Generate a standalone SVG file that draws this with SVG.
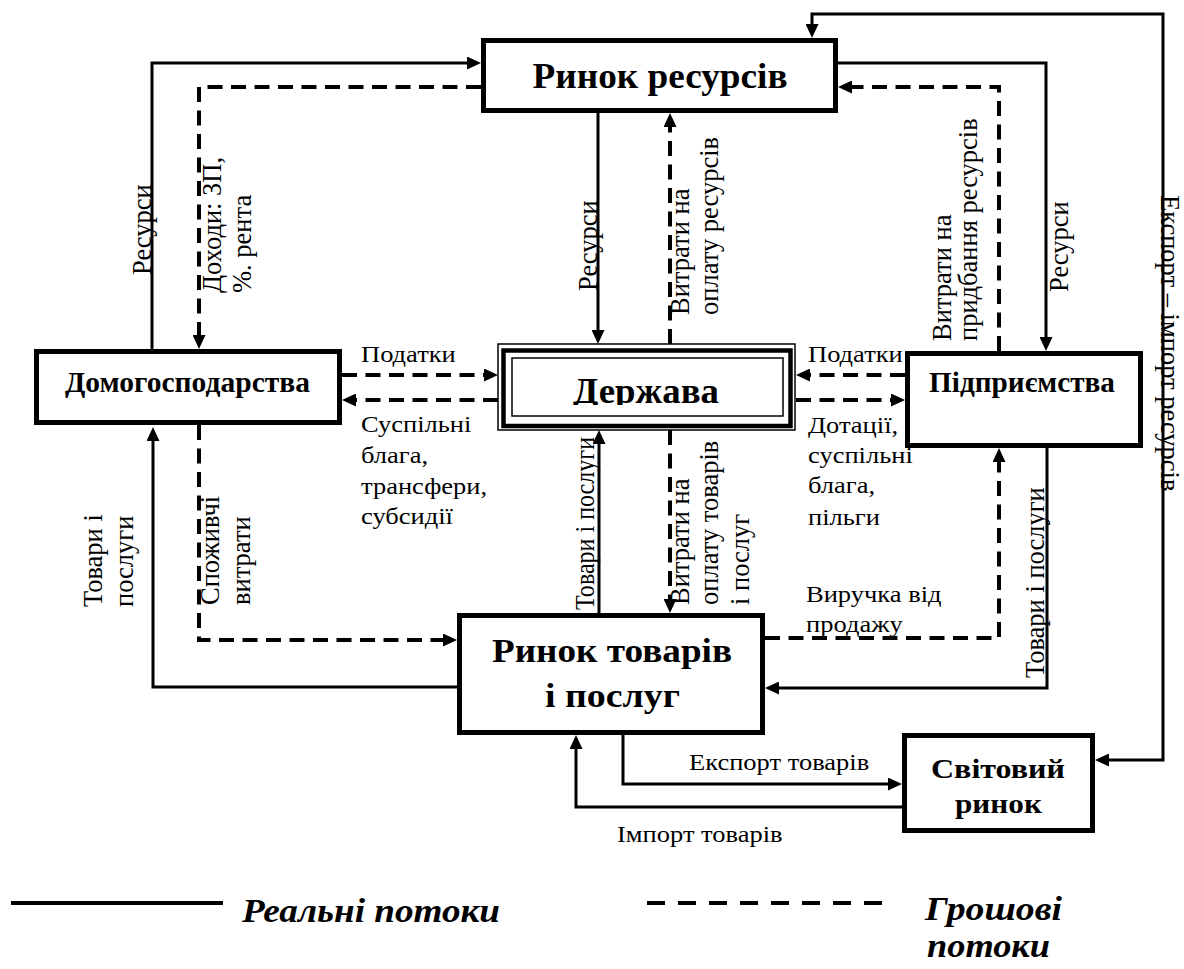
<svg xmlns="http://www.w3.org/2000/svg" width="1184" height="969" viewBox="0 0 1184 969">
<style>
.box{fill:#fff;stroke:#000;stroke-width:5}
.title{font-family:'Liberation Serif','DejaVu Serif',serif;font-weight:bold;fill:#000;text-anchor:middle}
.lbl{font-family:'Liberation Serif','DejaVu Serif',serif;font-size:26.5px;fill:#000}
.solid{fill:none;stroke:#000;stroke-width:3;marker-end:url(#ah)}
.dash{fill:none;stroke:#000;stroke-width:4;stroke-dasharray:15 8.5;marker-end:url(#ah)}
.leg{font-family:'Liberation Serif','DejaVu Serif',serif;font-weight:bold;font-style:italic;font-size:33px;fill:#000}
</style>
<defs>
<marker id="ah" markerUnits="userSpaceOnUse" markerWidth="14" markerHeight="13" refX="9" refY="6.5" orient="auto-start-reverse" viewBox="0 0 14 13"><path d="M0,0 L14,6.5 L0,13 z" fill="#000" stroke="none"/></marker>
<clipPath id="dclip"><rect x="513" y="359" width="269" height="46"/></clipPath>
</defs>
<rect width="1184" height="969" fill="#fff"/>

<g id="connectors">
<path class="solid" d="M152,349 V63 H476"/>
<path class="solid" d="M598,113 V339"/>
<path class="solid" d="M838,63 H1046 V346"/>
<path class="solid" d="M599,613 V435"/>
<path class="solid" d="M457,687 H153 V432"/>
<path class="solid" d="M1047,448 V688 H770"/>
<path class="solid" d="M623,735 V784 H897"/>
<path class="solid" d="M902,807 H576 V740"/>
<path class="solid" d="M1100,760 H1163 V14 H812 V33" style="marker-start:url(#ah)"/>
<path class="dash" d="M481,87 H199 V344"/>
<path class="dash" d="M670,344 V118"/>
<path class="dash" d="M999,351 V87 H843"/>
<path class="dash" d="M342,375 H493"/>
<path class="dash" d="M498,400 H347"/>
<path class="dash" d="M905,375 H801"/>
<path class="dash" d="M796,400 H900"/>
<path class="dash" d="M199,425 V640 H452"/>
<path class="dash" d="M670,430 V608"/>
<path class="dash" d="M765,638 H999 V453"/>
</g>

<g id="node-resource-market">
<rect class="box" x="483.5" y="40.5" width="352" height="70"/>
<text class="title" x="660" y="88" font-size="35" textLength="255" lengthAdjust="spacingAndGlyphs">Ринок ресурсів</text>
</g>
<g id="node-households">
<rect class="box" x="36.5" y="351.5" width="303" height="71"/>
<text class="title" x="187.5" y="392" font-size="29" textLength="245" lengthAdjust="spacingAndGlyphs">Домогосподарства</text>
</g>
<g id="node-state">
<rect x="498" y="344" width="297" height="86" fill="#fff" stroke="#000" stroke-width="1.5"/>
<rect x="503.5" y="350.5" width="287" height="75.5" fill="none" stroke="#000" stroke-width="4.5"/>
<rect x="512" y="358" width="271" height="58" fill="none" stroke="#000" stroke-width="1.5"/>
<text class="title" x="646" y="403" font-size="35" textLength="146" lengthAdjust="spacingAndGlyphs" clip-path="url(#dclip)">Держава</text>
</g>
<g id="node-firms">
<rect class="box" x="907.5" y="353.5" width="233" height="92"/>
<text class="title" x="1022" y="392" font-size="30" textLength="186" lengthAdjust="spacingAndGlyphs">Підприємства</text>
</g>
<g id="node-goods-market">
<rect class="box" x="459.5" y="615.5" width="303" height="117"/>
<text class="title" x="612" y="662" font-size="33" textLength="240" lengthAdjust="spacingAndGlyphs">Ринок товарів</text>
<text class="title" x="612.5" y="707" font-size="33" textLength="135" lengthAdjust="spacingAndGlyphs">і послуг</text>
</g>
<g id="node-world-market">
<rect class="box" x="904.5" y="735.5" width="188" height="95"/>
<text class="title" x="998" y="778" font-size="28" textLength="134" lengthAdjust="spacingAndGlyphs">Світовий</text>
<text class="title" x="998.5" y="813" font-size="28" textLength="87" lengthAdjust="spacingAndGlyphs">ринок</text>
</g>

<g id="labels">
<text class="lbl" transform="translate(151,275) rotate(-90)">Ресурси</text>
<text class="lbl" transform="translate(221,293) rotate(-90)"><tspan x="0" y="0">Доходи: ЗП,</tspan><tspan x="0" dy="30">%. рента</tspan></text>
<text class="lbl" transform="translate(597,291) rotate(-90)">Ресурси</text>
<text class="lbl" transform="translate(689,315) rotate(-90)"><tspan x="0" y="0">Витрати на</tspan><tspan x="0" dy="29">оплату ресурсів</tspan></text>
<text class="lbl" transform="translate(951,341) rotate(-90)"><tspan x="0" y="0">Витрати на</tspan><tspan x="0" dy="26">придбання ресурсів</tspan></text>
<text class="lbl" transform="translate(1068,292) rotate(-90)">Ресурси</text>
<text class="lbl" transform="translate(1161,195) rotate(90)" font-size="24.5">Експорт – імпорт ресурсів</text>
<text class="lbl" transform="translate(102,607) rotate(-90)"><tspan x="0" y="0">Товари і</tspan><tspan x="0" dy="31">послуги</tspan></text>
<text class="lbl" transform="translate(219,605) rotate(-90)"><tspan x="0" y="0">Споживчі</tspan><tspan x="0" dy="31">витрати</tspan></text>
<text class="lbl" transform="translate(594,610) rotate(-90)" textLength="173" lengthAdjust="spacingAndGlyphs">Товари і послуги</text>
<text class="lbl" transform="translate(689,605) rotate(-90)"><tspan x="0" y="0">Витрати на</tspan><tspan x="0" dy="29">оплату товарів</tspan><tspan x="0" dy="31">і послуг</tspan></text>
<text class="lbl" transform="translate(1044,678) rotate(-90)">Товари і послуги</text>

<text class="lbl" transform="translate(361,362) scale(1,0.87)">Податки</text>
<text class="lbl" transform="translate(361,432) scale(1,0.87)"><tspan x="0" y="0">Суспільні</tspan><tspan x="0" dy="35.6">блага,</tspan><tspan x="0" dy="36.2">трансфери,</tspan><tspan x="0" dy="34.5">субсидії</tspan></text>
<text class="lbl" transform="translate(808,362) scale(1,0.87)">Податки</text>
<text class="lbl" transform="translate(808,433) scale(1,0.87)"><tspan x="0" y="0">Дотації,</tspan><tspan x="0" dy="34.5">суспільні</tspan><tspan x="0" dy="34.5">блага,</tspan><tspan x="0" dy="36.8">пільги</tspan></text>
<text class="lbl" transform="translate(806,602) scale(1,0.87)"><tspan x="0" y="0">Виручка від</tspan><tspan x="0" dy="34.5">продажу</tspan></text>
<text class="lbl" transform="translate(689,770) scale(1,0.87)">Експорт товарів</text>
<text class="lbl" transform="translate(617,842) scale(1,0.87)">Імпорт товарів</text>
</g>

<g id="legend">
<line x1="11" y1="903" x2="223" y2="903" stroke="#000" stroke-width="4"/>
<text class="leg" x="242" y="922" textLength="258" lengthAdjust="spacingAndGlyphs">Реальні потоки</text>
<line x1="647" y1="903" x2="895" y2="903" stroke="#000" stroke-width="4" stroke-dasharray="18 13"/>
<text class="leg" x="925" y="920" textLength="137" lengthAdjust="spacingAndGlyphs">Грошові</text>
<text class="leg" x="927" y="957" textLength="123" lengthAdjust="spacingAndGlyphs">потоки</text>
</g>
</svg>
